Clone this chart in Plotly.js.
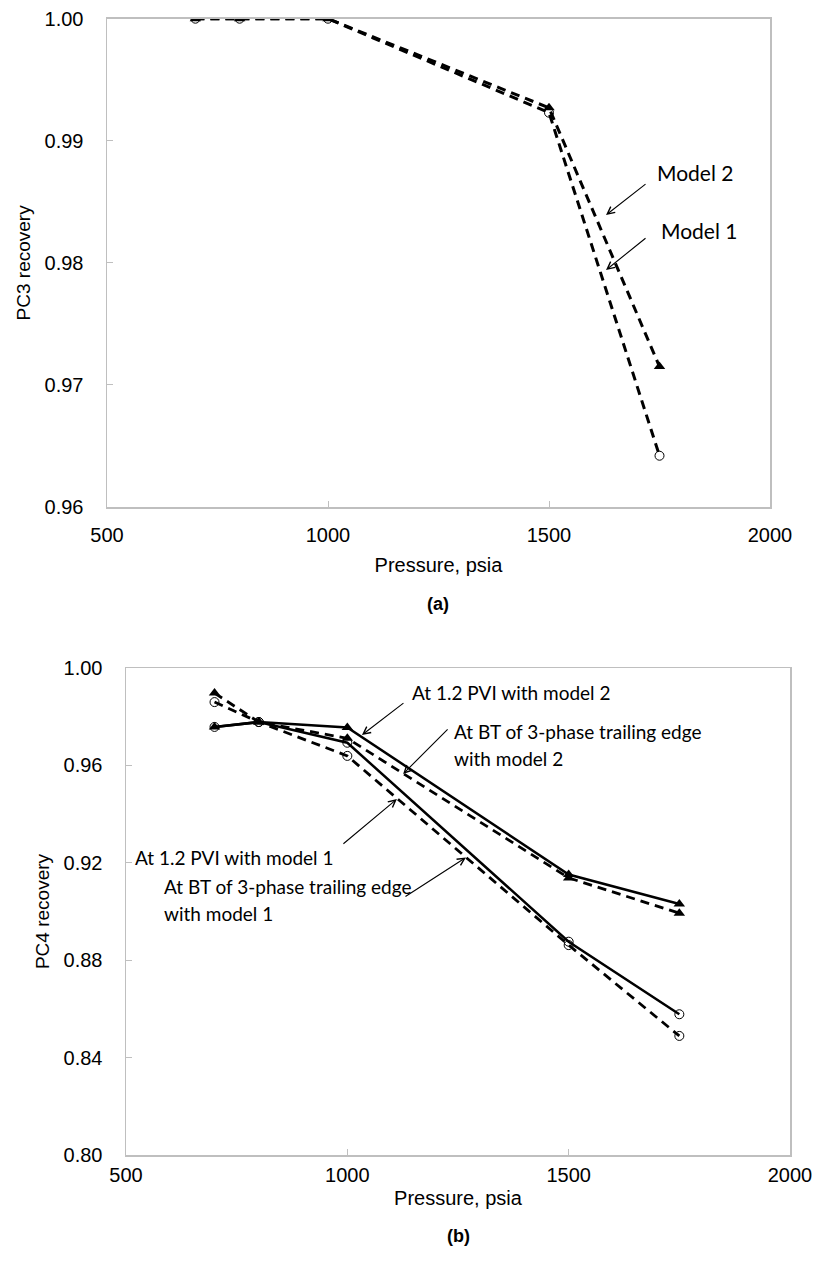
<!DOCTYPE html>
<html><head><meta charset="utf-8">
<script src="https://cdn.plot.ly/plotly-3.0.1.min.js"></script>
<style>html,body{margin:0;padding:0;background:#fff}</style>
</head><body>
<div id="chart" style="width:820px;height:1269px"></div>
<script>
// ---- data ----
const pressure = [700, 800, 1000, 1500, 1750];
// Panel (a): PC3 recovery
const pc3Model1 = [1.000, 1.000, 1.000, 0.9923, 0.9642];
const pc3Model2 = [1.000, 1.000, 1.000, 0.9927, 0.9715];
// Panel (b): PC4 recovery
const pc4PviModel2 = [0.9758, 0.9778, 0.9756, 0.9152, 0.9031];
const pc4BtModel2  = [0.9897, 0.9778, 0.9711, 0.9138, 0.8993];
const pc4PviModel1 = [0.9758, 0.9778, 0.9693, 0.8876, 0.8578];
const pc4BtModel1  = [0.9860, 0.9778, 0.9639, 0.8862, 0.8489];
const xTickVals = [500, 1000, 1500, 2000];
const xTickText = ['500', '1000', '1500', '2000'];
const yTicksA = [0.96, 0.97, 0.98, 0.99, 1.00];
const yTicksB = [0.80, 0.84, 0.88, 0.92, 0.96, 1.00];

// ---- styling ----
const W = 820, H = 1269;
const px = v => v / W, py = v => 1 - v / H;
const TRI = {symbol: 'triangle-up', size: 10, color: '#000'};
const CIR = {symbol: 'circle-open', size: 9, color: '#000', line: {width: 1, color: '#000'}};
const DASH = '9px,6px';

function tr(x, y, ax, marker, dash, width) {
  return {x: x, y: y, xaxis: 'x' + (ax === 1 ? '' : ax), yaxis: 'y' + (ax === 1 ? '' : ax),
    type: 'scatter', mode: 'lines+markers', marker: marker,
    line: {color: '#000', width: width, dash: dash}, hoverinfo: 'skip'};
}

const traces = [
  tr(pressure, pc3Model1, 1, CIR, DASH, 3),
  tr(pressure, pc3Model2, 1, TRI, DASH, 3),
  tr(pressure, pc4BtModel1, 2, CIR, DASH, 2.8),
  tr(pressure, pc4BtModel2, 2, TRI, DASH, 2.8),
  tr(pressure, pc4PviModel1, 2, CIR, 'solid', 2.5),
  tr(pressure, pc4PviModel2, 2, TRI, 'solid', 2.5)
];

const axisCommon = {
  showline: true, linecolor: '#bfbfbf', linewidth: 1.5, mirror: true,
  ticks: 'inside', ticklen: 6, tickcolor: '#bfbfbf', tickwidth: 1,
  showgrid: false, zeroline: false, fixedrange: true,
  tickfont: {family: 'Liberation Sans, Arial, sans-serif', size: 20, color: '#000'}
};
const titleFont = {family: 'Liberation Sans, Arial, sans-serif', size: 20, color: '#000'};
const yTitleFont = {family: 'Liberation Sans, Arial, sans-serif', size: 19, color: '#000'};

const ANN = 'Lato, "Open Sans", sans-serif';
function txt(x, y, text, size) {
  return {xref: 'paper', yref: 'paper', x: px(x), y: py(y), text: text, showarrow: false,
    xanchor: 'left', yanchor: 'middle', align: 'left',
    font: {family: ANN, size: size, color: '#000'}};
}
function arrow(xr, yr, x, y, ax, ay) {
  return {xref: xr, yref: yr, x: x, y: y, ax: ax, ay: ay, axref: 'pixel', ayref: 'pixel',
    text: '', showarrow: true, arrowhead: 5, arrowsize: 1.3, arrowwidth: 1.1, arrowcolor: '#000'};
}

const layout = {
  width: W, height: H, margin: {l: 0, r: 0, t: 0, b: 0},
  paper_bgcolor: '#fff', plot_bgcolor: '#fff', showlegend: false,
  font: {family: 'Liberation Sans, Arial, sans-serif', size: 19, color: '#000'},
  xaxis: Object.assign({}, axisCommon, {domain: [px(107), px(770)], anchor: 'y',
    range: [500, 2000], tickvals: xTickVals, ticktext: xTickText, ticklabelstandoff: 9,
    title: {text: 'Pressure, psia', font: titleFont, standoff: 13}}),
  yaxis: Object.assign({}, axisCommon, {domain: [py(507), py(18.7)], anchor: 'x',
    range: [0.96, 1.00], tickvals: yTicksA, tickformat: '.2f', ticklabelstandoff: 18,
    title: {text: 'PC3 recovery', font: yTitleFont, standoff: 9}}),
  xaxis2: Object.assign({}, axisCommon, {domain: [px(126), px(790)], anchor: 'y2',
    range: [500, 2000], tickvals: xTickVals, ticktext: xTickText, ticklabelstandoff: 1,
    title: {text: 'Pressure, psia', font: titleFont, standoff: 6}}),
  yaxis2: Object.assign({}, axisCommon, {domain: [py(1155), py(668)], anchor: 'x2',
    range: [0.80, 1.00], tickvals: yTicksB, tickformat: '.2f', ticklabelstandoff: 18,
    title: {text: 'PC4 recovery', font: yTitleFont, standoff: 9}}),
  annotations: [
    // panel (a)
    txt(655, 173, 'Model 2', 21),
    arrow('x', 'y', 1629, 0.98392, 41, -32),
    txt(659, 230, 'Model 1', 21),
    arrow('x', 'y', 1629, 0.97941, 41, -33),
    {xref: 'paper', yref: 'paper', x: px(438), y: py(604), text: '<b>(a)</b>', showarrow: false,
      xanchor: 'center', yanchor: 'middle', font: {family: 'Liberation Sans, Arial, sans-serif', size: 18, color: '#000'}},
    // panel (b)
    txt(410, 692, 'At 1.2 PVI with model 2', 19),
    arrow('x2', 'y2', 1033, 0.9725, 43, -33),
    txt(452, 731, 'At BT of 3-phase trailing edge', 19),
    txt(452, 758, 'with model 2', 19),
    arrow('x2', 'y2', 1126, 0.9565, 46, -46),
    txt(133, 857, 'At 1.2 PVI with model 1', 19),
    arrow('x2', 'y2', 1112, 0.9462, -55, 46),
    txt(162, 886, 'At BT of 3-phase trailing edge', 19),
    txt(162, 913, 'with model 1', 19),
    arrow('x2', 'y2', 1268, 0.9222, -62, 40),
    {xref: 'paper', yref: 'paper', x: px(458), y: py(1236), text: '<b>(b)</b>', showarrow: false,
      xanchor: 'center', yanchor: 'middle', font: {family: 'Liberation Sans, Arial, sans-serif', size: 18, color: '#000'}}
  ]
};

Plotly.newPlot('chart', traces, layout, {staticPlot: true, displayModeBar: false});
</script>
</body></html>
